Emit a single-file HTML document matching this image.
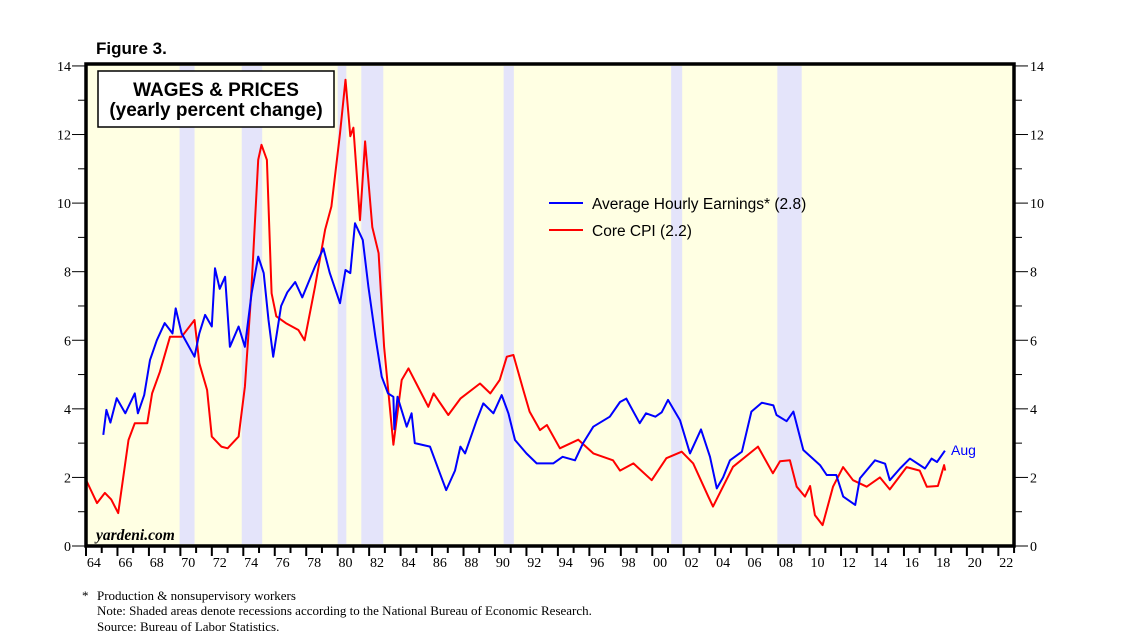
<!DOCTYPE html>
<html><head><meta charset="utf-8"><style>
body{margin:0;background:#fff;width:1138px;height:643px;overflow:hidden}
svg{display:block}
.ser{font-family:"Liberation Serif",serif}
.sans{font-family:"Liberation Sans",sans-serif}
</style></head><body>
<svg id="chart" width="1138" height="643">
<text class="sans" x="96" y="54" font-size="17" font-weight="bold">Figure 3.</text>
<rect x="86" y="64" width="928" height="482" fill="#ffffe3"/>
<g id="rec"></g>
<g id="lines"></g>
<rect x="86" y="64" width="928" height="482" fill="none" stroke="#000" stroke-width="3.5"/>
<g id="axes"></g>
<g>
<rect x="98" y="71" width="236" height="56" fill="#fff" stroke="#000" stroke-width="1.5"/>
<text class="sans" x="216" y="96" font-size="19" font-weight="bold" text-anchor="middle">WAGES &amp; PRICES</text>
<text class="sans" x="216" y="116" font-size="19" font-weight="bold" text-anchor="middle">(yearly percent change)</text>
</g>
<g>
<line x1="549" y1="203" x2="583" y2="203" stroke="#0000ff" stroke-width="2"/>
<text class="sans" x="592" y="209" font-size="15.5" fill="#000">Average Hourly Earnings* (2.8)</text>
<line x1="549" y1="230" x2="583" y2="230" stroke="#ff0000" stroke-width="2"/>
<text class="sans" x="592" y="236" font-size="15.5" fill="#000">Core CPI (2.2)</text>
</g>
<text class="sans" x="951" y="455" font-size="14" fill="#0000ff">Aug</text>
<text class="ser" x="96" y="540" font-size="15.5" font-style="italic" font-weight="bold">yardeni.com</text>
<g class="ser" font-size="13">
<text x="82" y="600">*</text>
<text x="97" y="600">Production &amp; nonsupervisory workers</text>
<text x="97" y="615">Note: Shaded areas denote recessions according to the National Bureau of Economic Research.</text>
<text x="97" y="631">Source: Bureau of Labor Statistics.</text>
</g>
</svg>
<script>
const recessions=[[1969.95,1970.9],[1973.9,1975.2],[1980.0,1980.55],[1981.5,1982.9],[1990.55,1991.2],[2001.2,2001.9],[2007.95,2009.5]];
const aheYears=[1965.1,1965.3,1965.55,1965.95,1966.5,1967.1,1967.3,1967.7,1968.07,1968.5,1969.0,1969.5,1969.7,1970.08,1970.9,1971.2,1971.57,1972.0,1972.2,1972.5,1972.84,1973.15,1973.7,1974.1,1974.53,1974.95,1975.3,1975.6,1975.9,1976.4,1976.8,1977.3,1977.75,1978.56,1979.09,1979.5,1980.15,1980.5,1980.8,1981.1,1981.6,1981.95,1982.4,1982.8,1983.2,1983.54,1983.6,1983.8,1984.39,1984.7,1984.9,1985.87,1986.5,1986.9,1987.46,1987.8,1988.1,1988.84,1989.26,1989.9,1990.43,1990.85,1991.27,1992.0,1992.65,1993.7,1994.3,1995.09,1995.6,1996.25,1997.3,1997.95,1998.35,1999.2,1999.6,2000.2,2000.6,2001.0,2001.76,2002.4,2003.1,2003.67,2004.1,2004.5,2004.94,2005.7,2006.3,2006.96,2007.7,2007.9,2008.54,2008.97,2009.6,2010.66,2011.09,2011.7,2012.14,2012.9,2013.2,2014.16,2014.8,2015.1,2015.75,2016.38,2017.34,2017.76,2018.1,2018.6];
const aheValues=[3.24,3.97,3.6,4.31,3.87,4.45,3.87,4.4,5.42,6.0,6.5,6.2,6.93,6.2,5.52,6.2,6.74,6.4,8.1,7.5,7.85,5.81,6.4,5.81,7.37,8.44,7.96,6.59,5.52,7.0,7.4,7.7,7.25,8.15,8.68,7.96,7.08,8.05,7.96,9.41,8.92,7.56,6.1,4.94,4.45,4.35,3.4,4.35,3.48,3.87,3.0,2.9,2.12,1.63,2.2,2.9,2.7,3.67,4.16,3.87,4.4,3.87,3.09,2.7,2.41,2.41,2.6,2.5,3.0,3.48,3.77,4.2,4.3,3.58,3.87,3.77,3.9,4.26,3.67,2.7,3.4,2.6,1.68,2.0,2.5,2.75,3.92,4.18,4.1,3.82,3.64,3.92,2.8,2.36,2.07,2.07,1.44,1.2,1.97,2.5,2.4,1.92,2.26,2.55,2.26,2.55,2.45,2.78];
const cpiYears=[1964.05,1964.7,1965.2,1965.6,1966.05,1966.7,1967.1,1967.9,1968.2,1968.7,1969.34,1970.08,1970.9,1971.2,1971.7,1972.0,1972.6,1973.0,1973.7,1974.1,1974.5,1974.95,1975.16,1975.5,1975.8,1976.1,1976.7,1977.5,1977.9,1978.56,1979.2,1979.6,1980.15,1980.5,1980.8,1981.0,1981.42,1981.74,1982.2,1982.6,1982.95,1983.54,1984.07,1984.5,1985.0,1985.76,1986.1,1987.03,1987.8,1989.05,1989.7,1990.3,1990.75,1991.17,1991.8,1992.2,1992.86,1993.3,1994.13,1995.3,1996.25,1997.5,1997.95,1998.8,1999.96,2000.9,2001.87,2002.6,2003.56,2003.86,2005.13,2006.72,2007.67,2008.12,2008.75,2009.18,2009.71,2010.03,2010.34,2010.83,2011.49,2012.13,2012.76,2013.63,2014.47,2015.1,2016.17,2017.0,2017.45,2018.16,2018.55,2018.62];
const cpiValues=[1.88,1.25,1.55,1.36,0.96,3.09,3.58,3.58,4.45,5.08,6.1,6.1,6.59,5.33,4.55,3.19,2.9,2.85,3.19,4.65,7.37,11.26,11.7,11.26,7.37,6.7,6.5,6.3,6.0,7.56,9.22,9.9,12.03,13.6,11.95,12.2,9.5,11.8,9.3,8.54,5.81,2.95,4.84,5.18,4.74,4.06,4.45,3.82,4.3,4.74,4.45,4.84,5.52,5.57,4.55,3.92,3.38,3.53,2.85,3.1,2.7,2.5,2.2,2.41,1.92,2.56,2.75,2.41,1.44,1.15,2.31,2.9,2.12,2.47,2.5,1.73,1.44,1.75,0.9,0.61,1.73,2.3,1.92,1.73,2.0,1.65,2.3,2.2,1.73,1.75,2.36,2.2];
const yTicks=[0,2,4,6,8,10,12,14];
const xLabels=["64","66","68","70","72","74","76","78","80","82","84","86","88","90","92","94","96","98","00","02","04","06","08","10","12","14","16","18","20","22"];

const NS="http://www.w3.org/2000/svg";
const X=y=>86+(y-1964)*15.73;
const Y=v=>546-v*34.29;
function mk(tag,attrs,parent){const e=document.createElementNS(NS,tag);for(const k in attrs)e.setAttribute(k,attrs[k]);parent.appendChild(e);return e;}

const rec=document.getElementById('rec');
recessions.forEach((r,i)=>{
  const e=mk('rect',{x:X(r[0]),y:66,width:X(r[1])-X(r[0]),height:478,fill:'#e4e4fa'},rec);
  
  
});

const lines=document.getElementById('lines');
function path(xs,vs,color,name){
  const d=xs.map((x,i)=>(i?'L':'M')+X(x).toFixed(1)+' '+Y(vs[i]).toFixed(1)).join(' ');
  const e=mk('path',{d:d,fill:'none',stroke:color,'stroke-width':2,'stroke-linejoin':'round'},lines);
  
  
}
path(cpiYears,cpiValues,'#ff0000','core-cpi-line');
path(aheYears,aheValues,'#0000ff','hourly-earnings-line');

const ax=document.getElementById('axes');
for(let v=0;v<=14;v++){
  const major=v%2===0;
  mk('line',{x1:major?72:78,y1:Y(v),x2:86,y2:Y(v),stroke:'#000','stroke-width':1},ax);
  mk('line',{x1:1014,y1:Y(v),x2:major?1028:1022,y2:Y(v),stroke:'#000','stroke-width':1},ax);
}
yTicks.forEach(v=>{
  const l=mk('text',{x:71,y:Y(v)+5,'text-anchor':'end','font-size':14,class:'ser'},ax);
  l.textContent=v;
  
  
  const r=mk('text',{x:1030,y:Y(v)+5,'font-size':14,class:'ser'},ax);
  r.textContent=v;
  
  
});
for(let y=1964;y<=2023;y++){
  mk('line',{x1:X(y),y1:546,x2:X(y),y2:y%2===0?556:553,stroke:'#000','stroke-width':2},ax);
}
xLabels.forEach((s,i)=>{
  const t=mk('text',{x:X(1964+2*i+0.5),y:567,'text-anchor':'middle','font-size':14,class:'ser'},ax);
  t.textContent=s;
  
  
});
</script>
</body></html>
